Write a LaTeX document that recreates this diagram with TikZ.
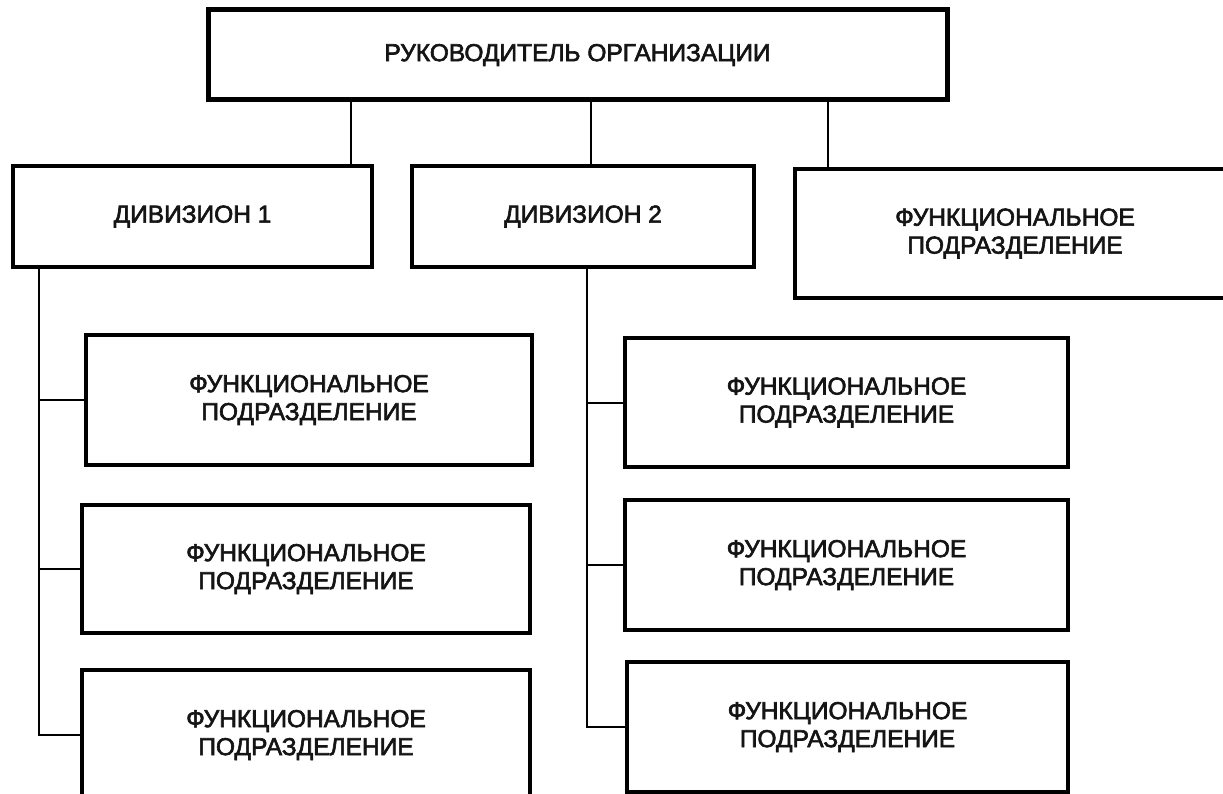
\documentclass[tikz,border=0pt]{standalone}
\usepackage{fontspec}
\setmainfont{Liberation Sans}
\newfontfamily\boxfont{Liberation Sans}[FakeBold=2.5]

\begin{document}
\begin{tikzpicture}[x=1pt,y=-1pt,line cap=rect,
  unitbox/.style={draw=custcol_0_0_0, line width=4.0pt, fill=custcol_ff_ff_ff, inner sep=0, align=center, text=custcol_1a_1a_1a, font=\boxfont\fontsize{24.5pt}{28pt}\selectfont},
  link/.style={draw=custcol_0_0_0, line width=2.0pt}]
\useasboundingbox (0,0) rectangle (1223,794);
\clip (0,0) rectangle (1223,794);
\definecolor{custcol_0_0_0}{RGB}{0, 0, 0}
\definecolor{custcol_1a_1a_1a}{RGB}{20, 20, 20}
\definecolor{custcol_ff_ff_ff}{RGB}{255, 255, 255}
% top level
\node[unitbox, line width=5.0pt, minimum width=739, minimum height=90] (chief) at (577.5,55.0) {РУКОВОДИТЕЛЬ ОРГАНИЗАЦИИ};
\node[unitbox, minimum width=359, minimum height=101] (divA) at (192.5,216.5) {ДИВИЗИОН 1};
\node[unitbox, minimum width=342, minimum height=101] (divB) at (583.0,216.5) {ДИВИЗИОН 2};
\node[unitbox, minimum width=440, minimum height=129] (funcR) at (1015.0,233.5) {ФУНКЦИОНАЛЬНОЕ\\ПОДРАЗДЕЛЕНИЕ};
% division 1
\node[unitbox, minimum width=446, minimum height=130] (subA1) at (309.0,400.0) {ФУНКЦИОНАЛЬНОЕ\\ПОДРАЗДЕЛЕНИЕ};
\node[unitbox, minimum width=448, minimum height=128] (subA2) at (306.0,569.0) {ФУНКЦИОНАЛЬНОЕ\\ПОДРАЗДЕЛЕНИЕ};
\node[unitbox, minimum width=448, minimum height=130] (subA3) at (306.0,735.0) {ФУНКЦИОНАЛЬНОЕ\\ПОДРАЗДЕЛЕНИЕ};
% division 2
\node[unitbox, minimum width=443, minimum height=129] (subB1) at (846.5,402.5) {ФУНКЦИОНАЛЬНОЕ\\ПОДРАЗДЕЛЕНИЕ};
\node[unitbox, minimum width=443, minimum height=130] (subB2) at (846.5,565.0) {ФУНКЦИОНАЛЬНОЕ\\ПОДРАЗДЕЛЕНИЕ};
\node[unitbox, minimum width=441, minimum height=130] (subB3) at (847.5,727.0) {ФУНКЦИОНАЛЬНОЕ\\ПОДРАЗДЕЛЕНИЕ};
% links from the top
\draw [link] ([xshift=-23pt]divA.north east) -- ([xshift=-23pt]divA.north east |- chief.south);
\draw [link] ([xshift=8pt]divB.north) -- ([xshift=8pt]divB.north |- chief.south);
\draw [link] ([xshift=35pt]funcR.north west) -- ([xshift=35pt]funcR.north west |- chief.south);
% trunks
\coordinate (trunkA) at ([xshift=28pt]divA.south west);
\coordinate (trunkB) at ([xshift=4pt]divB.south);
\draw [link] (trunkA) |- (subA3.west);
\draw [link] (subA1.west) -- (subA1.west -| trunkA);
\draw [link] (subA2.west) -- (subA2.west -| trunkA);
\draw [link] (trunkB) |- (subB3.west);
\draw [link] (subB1.west) -- (subB1.west -| trunkB);
\draw [link] (subB2.west) -- (subB2.west -| trunkB);
\end{tikzpicture}
\end{document}
